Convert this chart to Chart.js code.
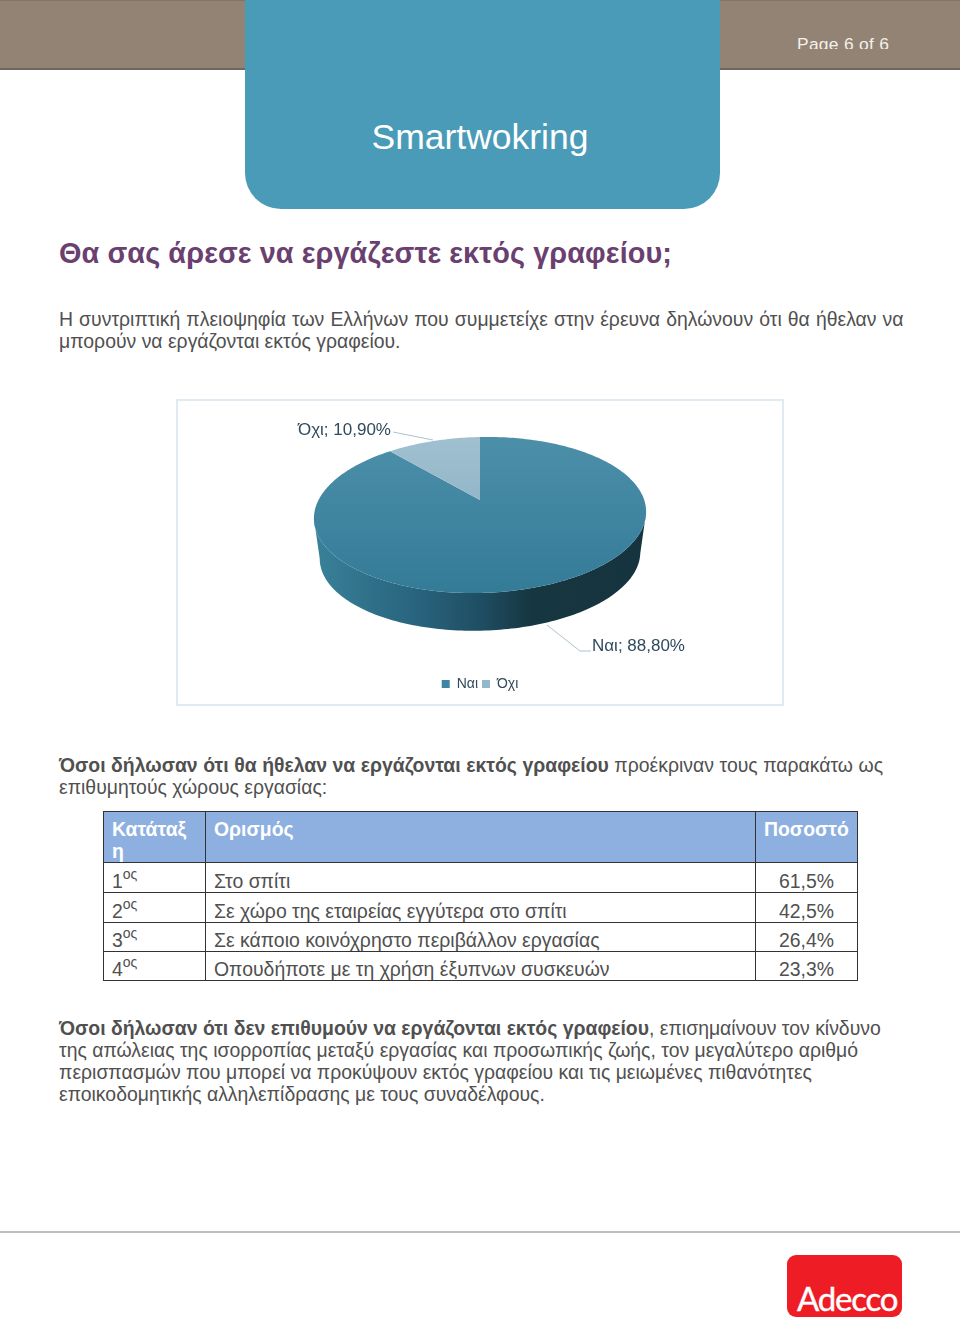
<!DOCTYPE html>
<html lang="el">
<head>
<meta charset="utf-8">
<script src="https://cdn.jsdelivr.net/npm/chart.js@4"></script>
<style>
html,body{margin:0;padding:0;background:#fff;}
#page{position:relative;width:960px;height:1320px;overflow:hidden;font-family:"Liberation Sans",Arial,sans-serif;color:#505050;}
.a{position:absolute;white-space:nowrap;}
.t{position:absolute;white-space:nowrap;font-size:19.42px;line-height:22px;left:59px;}
b{font-weight:bold;}
#band{left:0;top:0;width:960px;height:67px;background:#928375;border-top:1px solid #7f7468;border-bottom:2px solid #6f675e;}
#pageno{left:797px;top:30px;height:18.5px;overflow:hidden;color:#f4f0ea;font-size:17.4px;line-height:29px;letter-spacing:.3px;}
#tab{left:245px;top:0;width:475px;height:209px;background:#4a9bb8;border-radius:0 0 36px 36px;}
#title{left:245px;width:470px;top:115px;text-align:center;color:#fff;font-size:35.5px;line-height:44px;}
#head{left:59px;top:235px;font-size:28.85px;line-height:36px;font-weight:bold;color:#6a4070;letter-spacing:.1px;}
#box{left:176px;top:399px;width:604px;height:303px;border:2px solid #dfeaf1;}
#cv{position:absolute;left:177px;top:400px;}
table{position:absolute;left:103px;top:811px;width:754px;height:167px;border-collapse:collapse;table-layout:fixed;font-size:19.42px;color:#505050;}
td{border:1.5px solid #333;padding:0 8px;vertical-align:bottom;line-height:22px;white-space:nowrap;overflow:hidden;}
tr.h td{background:#8db0e0;color:#fff;font-weight:bold;vertical-align:top;padding-top:6px;white-space:normal;}
sup{font-size:14px;line-height:0;position:relative;top:-1px;vertical-align:8px;}
td.n{text-align:center;}
#foot{left:0;top:1231px;width:960px;height:2px;background:#bdbdbd;}
#logo{left:787px;top:1255px;width:115px;height:62px;background:#ee1c25;border-radius:9px;}
#logot{left:797px;top:1275px;color:#fff;font-family:"Lato",sans-serif;font-size:33px;line-height:46px;letter-spacing:-1.2px;-webkit-text-stroke:.4px #fff;}
</style>
</head>
<body>
<div id="page">
<div class="a" id="band"></div>
<div class="a" id="pageno">Page 6 of 6</div>
<div class="a" id="tab"></div>
<div class="a" id="title">Smartwokring</div>
<div class="a" id="head">Θα σας άρεσε να εργάζεστε εκτός γραφείου;</div>
<div class="t" style="top:308px;word-spacing:.7px">Η συντριπτική πλειοψηφία των Ελλήνων που συμμετείχε στην έρευνα δηλώνουν ότι θα ήθελαν να</div>
<div class="t" style="top:330px">μπορούν να εργάζονται εκτός γραφείου.</div>
<div class="a" id="box"></div>
<canvas id="cv" width="606" height="305" style="width:606px;height:305px"></canvas>
<div class="t" style="top:754px;word-spacing:.17px"><b>Όσοι δήλωσαν ότι θα ήθελαν να εργάζονται εκτός γραφείου</b> προέκριναν τους παρακάτω ως</div>
<div class="t" style="top:776px">επιθυμητούς χώρους εργασίας:</div>
<table>
<colgroup><col style="width:102px"><col style="width:550px"><col style="width:102px"></colgroup>
<tr class="h" style="height:49px"><td>Κατάταξ η</td><td>Ορισμός</td><td>Ποσοστό</td></tr>
<tr style="height:30px"><td>1<sup>ος</sup></td><td>Στο σπίτι</td><td class="n">61,5%</td></tr>
<tr style="height:30px"><td>2<sup>ος</sup></td><td>Σε χώρο της εταιρείας εγγύτερα στο σπίτι</td><td class="n">42,5%</td></tr>
<tr style="height:29px"><td>3<sup>ος</sup></td><td>Σε κάποιο κοινόχρηστο περιβάλλον εργασίας</td><td class="n">26,4%</td></tr>
<tr style="height:29px"><td>4<sup>ος</sup></td><td>Οπουδήποτε με τη χρήση έξυπνων συσκευών</td><td class="n">23,3%</td></tr>
</table>
<div class="t" style="top:1017px"><b>Όσοι δήλωσαν ότι δεν επιθυμούν να εργάζονται εκτός γραφείου</b>, επισημαίνουν τον κίνδυνο</div>
<div class="t" style="top:1039px">της απώλειας της ισορροπίας μεταξύ εργασίας και προσωπικής ζωής, τον μεγαλύτερο αριθμό</div>
<div class="t" style="top:1061px">περισπασμών που μπορεί να προκύψουν εκτός γραφείου και τις μειωμένες πιθανότητες</div>
<div class="t" style="top:1083px">εποικοδομητικής αλληλεπίδρασης με τους συναδέλφους.</div>
<div class="a" id="foot"></div>
<div class="a" id="logo"></div>
<div class="a" id="logot">Adecco</div>
</div>
<script>
const categories = ["Ναι", "Όχι"];
const shares = [88.8, 10.9];
const sliceColors = ["#3d86a3", "#93b8cb"];

const PROJ = {cx:303, cy:100, a:163, b:75.1, k:0.192, shear:-0.02};
const BASE = {cy:141, scale:0.965};
const labelInk = "#2f4a5c";
const leader = "#a9c3d0";

function project(angle, base){
  const u = Math.cos(angle), v = Math.sin(angle);
  const s = 1/(1 - PROJ.k*v);
  const f = base ? BASE.scale : 1;
  const dx = PROJ.a*u*s*f;
  return [PROJ.cx + dx, (base ? BASE.cy : PROJ.cy) + PROJ.b*v*s*f + PROJ.shear*dx];
}
function samples(a0, a1){
  const n = Math.max(2, Math.ceil(Math.abs(a1-a0)/0.02));
  const out = [];
  for(let i=0;i<=n;i++) out.push(a0+(a1-a0)*i/n);
  return out;
}
const perspectivePie = {
  id:"perspectivePie",
  beforeDatasetDraw(chart, args){
    const ctx = chart.ctx, arcs = chart.getDatasetMeta(args.index).data;
    // side wall, from the widest point on the left round to the widest on the right
    arcs.forEach(el=>{
      const near = samples(el.startAngle, el.endAngle).filter(t=>Math.sin(t) > PROJ.k);
      if(!near.length) return;
      const g = ctx.createLinearGradient(PROJ.cx-PROJ.a, 0, PROJ.cx+PROJ.a, 0);
      g.addColorStop(0, "#3a8099");
      g.addColorStop(0.16, "#2f7189");
      g.addColorStop(0.32, "#28627c");
      g.addColorStop(0.5, "#1f4e63");
      g.addColorStop(0.66, "#163640");
      g.addColorStop(1, "#16343f");
      ctx.beginPath();
      near.forEach((t,i)=>{const p=project(t,false); i?ctx.lineTo(p[0],p[1]):ctx.moveTo(p[0],p[1]);});
      near.slice().reverse().forEach(t=>{const p=project(t,true); ctx.lineTo(p[0],p[1]);});
      ctx.closePath();
      ctx.fillStyle = g;
      ctx.fill();
    });
    // top faces
    arcs.forEach((el,i)=>{
      const g = ctx.createLinearGradient(0, PROJ.cy-63, 0, PROJ.cy+93);
      if(i===0){ g.addColorStop(0,"#4c8fa9"); g.addColorStop(1,"#347b98"); }
      else { g.addColorStop(0,"#a0c0d0"); g.addColorStop(1,"#7faabf"); }
      ctx.beginPath();
      ctx.moveTo(PROJ.cx, PROJ.cy);
      samples(el.startAngle, el.endAngle).forEach(t=>{const p=project(t,false); ctx.lineTo(p[0],p[1]);});
      ctx.closePath();
      ctx.fillStyle = g;
      ctx.fill();
    });
    return false;
  },
  afterDraw(chart){
    const ctx = chart.ctx;
    const fmt = i => categories[i]+"; "+shares[i].toFixed(2).replace(".",",")+"%";
    ctx.save();
    ctx.strokeStyle = leader; ctx.lineWidth = 1;
    ctx.beginPath(); ctx.moveTo(216,32); ctx.lineTo(256,40); ctx.stroke();
    ctx.beginPath(); ctx.moveTo(370,225); ctx.lineTo(403,251); ctx.lineTo(414,251); ctx.stroke();
    ctx.fillStyle = labelInk;
    ctx.font = '17px "Liberation Sans"';
    ctx.textBaseline = "middle";
    ctx.fillText(fmt(1), 121, 30);
    ctx.fillText(fmt(0), 415, 246);
    ctx.restore();
  }
};
new Chart(document.getElementById("cv"), {
  type:"pie",
  data:{labels:categories, datasets:[{data:shares, backgroundColor:sliceColors, borderWidth:0}]},
  options:{
    responsive:false, animation:false,
    layout:{padding:{bottom:4}},
    plugins:{
      tooltip:{enabled:false},
      legend:{position:"bottom", labels:{boxWidth:8, boxHeight:8, padding:4, color:labelInk, font:{family:'"Liberation Sans"', size:14}}}
    }
  },
  plugins:[perspectivePie]
});
</script>
</body>
</html>
